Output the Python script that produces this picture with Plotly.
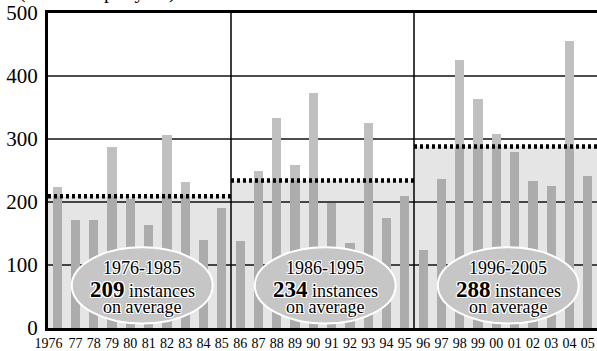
import plotly.graph_objects as go

# ---- data ----
years = [1976, 1977, 1978, 1979, 1980, 1981, 1982, 1983, 1984, 1985,
         1986, 1987, 1988, 1989, 1990, 1991, 1992, 1993, 1994, 1995,
         1996, 1997, 1998, 1999, 2000, 2001, 2002, 2003, 2004, 2005]
tick_labels = ["1976\u00a0\u00a0\u00a0\u00a0\u00a0", "77", "78", "79", "80", "81", "82", "83", "84", "85",
               "86", "87", "88", "89", "90", "91", "92", "93", "94", "95",
               "96", "97", "98", "99", "00", "01", "02", "03", "04", "05"]
counts = [224, 172, 172, 287, 204, 164, 306, 232, 140, 191,
          138, 249, 333, 258, 373, 199, 135, 326, 175, 209,
          124, 237, 426, 364, 308, 279, 233, 226, 455, 242]
period_labels = ["1976-1985", "1986-1995", "1996-2005"]
period_starts = [1976, 1986, 1996]
period_ends = [1985, 1995, 2005]
averages = [209, 234, 288]
y_ticks = [0, 100, 200, 300, 400, 500]

SERIF = "Liberation Serif"
HALO = "-1px -1px 0 #fff, 1px -1px 0 #fff, -1px 1px 0 #fff, 1px 1px 0 #fff, 0 1px 0 #fff, 0 -1px 0 #fff, 1px 0 0 #fff, -1px 0 0 #fff"

fig = go.Figure()
fig.add_trace(go.Bar(x=years, y=counts, width=0.5,
                     marker=dict(color="#c0c0c0", line=dict(width=0)),
                     showlegend=False, hoverinfo="x+y"))

shapes = []
annotations = []
for lab, s, e, avg in zip(period_labels, period_starts, period_ends, averages):
    shapes.append(dict(type="rect", xref="x", yref="y", x0=s - 0.5, x1=e + 0.5, y0=0, y1=avg,
                       fillcolor="rgba(0,0,0,0.1)", line=dict(width=0), layer="above"))
    shapes.append(dict(type="line", xref="x", yref="y", x0=s - 0.5, x1=e + 0.5, y0=avg, y1=avg,
                       line=dict(color="black", width=4.5, dash="3px,3px"), layer="above"))
    cx = (s + e) / 2 + 0.15
    shapes.append(dict(type="circle", xref="x", yref="y", x0=cx - 3.85, x1=cx + 3.85, y0=7, y1=128,
                       fillcolor="#c6c6c6", line=dict(color="white", width=2), layer="above"))
    annotations.append(dict(x=cx, y=96, xref="x", yref="y", text=lab, showarrow=False,
                            font=dict(family=SERIF, size=18, color="black", shadow=HALO)))
    annotations.append(dict(x=cx, y=61, xref="x", yref="y",
                            text=f"<b><span style='font-size:23px'>{avg}</span></b> instances",
                            showarrow=False,
                            font=dict(family=SERIF, size=18, color="black", shadow=HALO)))
    annotations.append(dict(x=cx, y=34, xref="x", yref="y", text="on average", showarrow=False,
                            font=dict(family=SERIF, size=18, color="black", shadow=HALO)))

for sep in [period_ends[0] + 0.5, period_ends[1] + 0.5]:
    shapes.append(dict(type="line", xref="x", yref="y", x0=sep, x1=sep, y0=0, y1=500,
                       line=dict(color="black", width=1.5), layer="above"))

# partially cut-off unit caption at top
annotations.append(dict(x=-0.056, y=1, xref="paper", yref="paper", xanchor="left", yanchor="bottom",
                        yshift=8, text="(instances per year)", showarrow=False,
                        font=dict(family=SERIF, size=20, color="black")))

fig.update_layout(
    width=597, height=351,
    margin=dict(l=48, r=0, t=13, b=23, autoexpand=False),
    paper_bgcolor="white", plot_bgcolor="white",
    bargap=0,
    font=dict(family=SERIF),
    shapes=shapes, annotations=annotations,
    xaxis=dict(range=[1975.5, 2005.5], tickmode="array", tickvals=years, ticktext=tick_labels,
               showgrid=False, zeroline=False, showline=True, linecolor="black", linewidth=3,
               mirror=True, ticks="", tickfont=dict(family=SERIF, size=14, color="black"),
               tickangle=0, fixedrange=True, automargin=False),
    yaxis=dict(range=[0, 500], tickmode="array", tickvals=y_ticks,
               showgrid=True, gridcolor="#4d4d4d", gridwidth=2, zeroline=False,
               showline=True, linecolor="black", linewidth=3, ticks="",
               ticklabelstandoff=3, automargin=False,
               tickfont=dict(family=SERIF, size=21, color="black"), fixedrange=True),
)

fig.write_html("out.html", config={"displayModeBar": False},
               post_script="document.body.style.margin='0px';")
